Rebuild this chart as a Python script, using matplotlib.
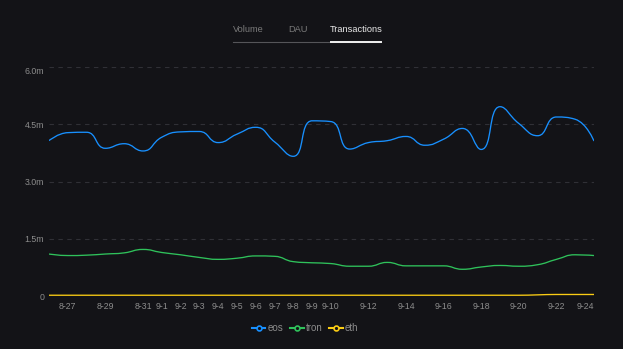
import numpy as np
import matplotlib
matplotlib.use('Agg')
from matplotlib import pyplot as plt
from matplotlib.path import Path
from matplotlib.patches import PathPatch
from matplotlib.lines import Line2D

# data (million transactions per day)
dates = ['8-26', '8-27', '8-28', '8-29', '8-30', '8-31', '9-1', '9-2', '9-3', '9-4',
         '9-5', '9-6', '9-7', '9-8', '9-9', '9-10', '9-11', '9-12', '9-13', '9-14',
         '9-15', '9-16', '9-17', '9-18', '9-19', '9-20', '9-21', '9-22', '9-23', '9-24']
eos = [4.07, 4.28, 4.29, 3.87, 3.99, 3.80, 4.16, 4.30, 4.31, 4.02,
       4.24, 4.42, 4.04, 3.66, 4.59, 4.57, 3.85, 4.02, 4.07, 4.18,
       3.95, 4.11, 4.39, 3.84, 4.96, 4.52, 4.20, 4.69, 4.63, 4.06]
tron = [1.10, 1.06, 1.07, 1.10, 1.13, 1.22, 1.14, 1.08, 1.01, 0.96,
        0.99, 1.05, 1.04, 0.90, 0.87, 0.85, 0.78, 0.78, 0.88, 0.79,
        0.79, 0.79, 0.70, 0.76, 0.80, 0.78, 0.82, 0.96, 1.08, 1.06]
eth = [0.02, 0.02, 0.02, 0.02, 0.02, 0.02, 0.02, 0.02, 0.02, 0.02,
       0.02, 0.02, 0.02, 0.02, 0.02, 0.02, 0.02, 0.02, 0.02, 0.02,
       0.02, 0.02, 0.02, 0.02, 0.02, 0.02, 0.03, 0.04, 0.04, 0.04]
shown_dates = ['8-27', '8-29', '8-31', '9-1', '9-2', '9-3', '9-4', '9-5', '9-6', '9-7',
               '9-8', '9-9', '9-10', '9-12', '9-14', '9-16', '9-18', '9-20', '9-22', '9-24']
y_ticks = [0, 1.5, 3.0, 4.5, 6.0]
y_tick_labels = ['0', '1.5m', '3.0m', '4.5m', '6.0m']
series = [('eos', eos, '#1890ff'), ('tron', tron, '#2fc25b'), ('eth', eth, '#facc14')]

BG = '#131317'
TXT = '#8c8c8c'
plt.rcParams['font.family'] = ['Liberation Sans Narrow', 'Liberation Sans', 'DejaVu Sans']


def smooth_path(ax, xs, ys, smooth=0.5):
    """Bezier path like an echarts smooth line (with its overshoot constraint), in pixel space."""
    pts = ax.transData.transform(np.column_stack([xs, ys]))
    n = len(pts)
    cp_in = [p.copy() for p in pts]   # control point before each point
    cp_out = [p.copy() for p in pts]  # control point after each point
    for i in range(1, n - 1):
        prev, cur, nxt = pts[i - 1], pts[i], pts[i + 1]
        v = nxt - prev
        l0 = np.hypot(*(cur - prev))
        l1 = np.hypot(*(nxt - cur))
        if l0 == 0 or l1 == 0:
            continue
        r = l1 / (l0 + l1)
        c_out = cur + v * smooth * r
        c_out = np.minimum(c_out, np.maximum(nxt, cur))
        c_out = np.maximum(c_out, np.minimum(nxt, cur))
        c_in = cur - (c_out - cur) * l0 / l1
        c_in = np.minimum(c_in, np.maximum(prev, cur))
        c_in = np.maximum(c_in, np.minimum(prev, cur))
        c_out = cur + (cur - c_in) * l1 / l0
        cp_in[i] = c_in
        cp_out[i] = c_out
    verts = [pts[0]]
    codes = [Path.MOVETO]
    for i in range(1, n):
        verts += [cp_out[i - 1], cp_in[i], pts[i]]
        codes += [Path.CURVE4] * 3
    verts = ax.transData.inverted().transform(np.array(verts))
    return Path(verts, codes)


fig = plt.figure(figsize=(6.23, 3.49), dpi=100, facecolor=BG)
ax = fig.add_axes([49 / 623, 1 - 296 / 349, 545 / 623, 229 / 349])
ax.set_facecolor(BG)

x = np.arange(len(dates))
ax.set_xlim(0, len(dates) - 1)
ax.set_ylim(0, 6.0)

for s in ax.spines.values():
    s.set_visible(False)

for yv in y_ticks[1:]:
    ax.axhline(yv, color='#303036', lw=0.8, ls=(0, (4, 4)), zorder=1)
ax.axhline(0, color='#45454a', lw=0.8, zorder=1)

for name, vals, color in series:
    p = smooth_path(ax, x, vals)
    ax.add_patch(PathPatch(p, facecolor='none', edgecolor=color, lw=0.95, zorder=3))

ax.set_yticks(y_ticks)
ax.set_yticklabels(y_tick_labels)
tick_pos = [dates.index(d) for d in shown_dates]
ax.set_xticks(tick_pos)
ax.set_xticklabels(shown_dates)
ax.tick_params(axis='both', length=0, colors=TXT, labelsize=6.3)
ax.tick_params(axis='x', pad=4)
ax.tick_params(axis='y', pad=3.5)
ax.get_yticklabels()[-1].set_va('top')
ax.get_xticklabels()[-1].set_ha('right')

# tabs on top
fig.text(248 / 623, 1 - 30 / 349, 'Volume', color='#7a7a7a', fontsize=6.7, ha='center', va='center')
fig.text(298 / 623, 1 - 30 / 349, 'DAU', color='#7a7a7a', fontsize=6.7, ha='center', va='center')
fig.text(356 / 623, 1 - 30 / 349, 'Transactions', color='#e8e8e8', fontsize=6.7, ha='center', va='center')
fig.add_artist(Line2D([233 / 623, 381 / 623], [1 - 42 / 349] * 2, color='#555559', lw=0.8,
                      transform=fig.transFigure))
fig.add_artist(Line2D([331 / 623, 381 / 623], [1 - 41.5 / 349] * 2, color='#f0f0f0', lw=1.4,
                      transform=fig.transFigure))

handles = [Line2D([], [], color=c, lw=1.5, marker='o', markersize=3.5, markerfacecolor=BG,
                  markeredgecolor=c, markeredgewidth=1.2, label=n) for n, _, c in series]
leg = fig.legend(handles=handles, loc='center', bbox_to_anchor=(305 / 623, 1 - 328 / 349), ncol=3,
                 frameon=False, fontsize=7, handlelength=1.4, handletextpad=0.2,
                 columnspacing=0.7)
for t in leg.get_texts():
    t.set_color(TXT)

plt.savefig('out.png', dpi=100, facecolor=BG)
plt.close()
